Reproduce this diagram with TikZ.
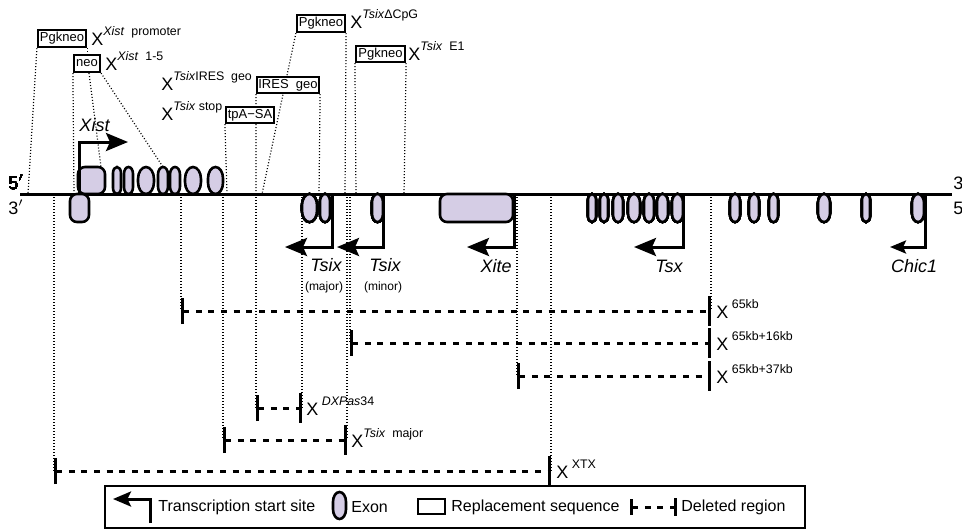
\documentclass[tikz,border=0pt]{standalone}
\usepackage{fontspec}
\setmainfont{Liberation Sans}
\usetikzlibrary{arrows.meta,backgrounds}
\definecolor{exonfill}{RGB}{213,205,229}
\newcommand{\allele}[1]{{\fontsize{9}{9}\selectfont X}\raisebox{4.6pt}{\fontsize{6.2}{7}\selectfont #1}}
% exon outline: #1,#2 left/right, #3,#4 top/bottom
\newcommand{\exonpath}[4]{%
  \pgfmathsetmacro\ry{min(0.75*(#2-#1),(#4-#3)/2)}%
  \pgfmathsetmacro\rx{(#2-#1)/2}%
  \draw[exon] (#1,#3+\ry) arc[start angle=180,end angle=360,x radius=\rx,y radius=\ry]
    -- (#2,#4-\ry) arc[start angle=0,end angle=180,x radius=\rx,y radius=\ry] -- cycle;}

\begin{document}
\begin{tikzpicture}[x=0.5pt,y=-0.5pt,
  exon/.style={draw,line width=1.3pt,fill=exonfill},
  guide/.style={line width=0.6pt,dash pattern=on 0.5pt off 1pt},
  tss/.style={line width=1.5pt,-{Stealth[length=11pt,width=9pt,inset=2pt]}},
  delreg/.style={line width=1.5pt,dash pattern=on 3pt off 3.3pt,
    {Bar[width=13pt,line width=1.5pt]}-{Bar[width=15pt,line width=1.5pt]}},
  repbox/.style={draw,fill=white,line width=1.1pt,inner sep=0pt,minimum height=8.5pt,
    font=\fontsize{6.5}{7}\selectfont},
  gene/.style={inner sep=0pt,font=\fontsize{9}{10}\selectfont\itshape},
  note/.style={inner sep=0pt,font=\fontsize{6}{7}\selectfont},
  tag/.style={inner sep=0pt,anchor=base west},
  strand/.style={inner sep=0pt,font=\fontsize{9}{10}\selectfont},
  keytext/.style={inner sep=0pt,anchor=west,font=\fontsize{8}{9}\selectfont}]
\useasboundingbox (0,0) rectangle (962,531);
%\draw[step=50,gray,very thin] (0,0) grid (962,531);
\coordinate (chr) at (0,194);
\foreach \n/\x in {pL/28,nL/74,tS/227,iL/256,cL/262,iR/319,cR/345,eL/356,eR/404}
  \coordinate (\n) at (\x,194);
\coordinate (ex1) at (101,167);
\coordinate (ex5) at (163,167);
\foreach \n/\a/\b/\y in {k65/181/711/311,k16/350/711/343,k37/517/711/376,
    dx/256/302/408,tm/223/347/440,xtx/54/551/471}{
  \coordinate (\n-a) at (\a,\y);
  \coordinate (\n-b) at (\b,\y);
}

% replacement constructs
\node[repbox,minimum width=24pt] (pgkP) at (62,38.5) {Pgkneo};
\node[repbox,minimum width=13pt] (neo) at (87,63.5) {neo};
\node[repbox,minimum width=31pt,minimum height=8pt] (ires) at (288,85) {IRES\ \ geo};
\node[repbox,minimum width=24pt,minimum height=8pt] (tpa) at (250,115) {tpA−SA};
\node[repbox,minimum width=24pt] (pgkC) at (321,23.5) {Pgkneo};
\node[repbox,minimum width=24.5pt,minimum height=8pt] (pgkE) at (380.5,54) {Pgkneo};

\node[tag] (lbP) at (91,45) {\allele{\textit{Xist}\ \ promoter}};
\node[tag] (lbN) at (105,70) {\allele{\textit{Xist}\ \ 1-5}};
\node[tag] (lbI) at (161,90) {\allele{\textit{Tsix}IRES\ \ geo}};
\node[tag] (lbS) at (161,120) {\allele{\textit{Tsix} stop}};
\node[tag] (lbC) at (350,28) {\allele{\textit{Tsix}ΔCpG}};
\node[tag] (lbE) at (408,60) {\allele{\textit{Tsix}\ \ E1}};

\begin{scope}[on background layer]
\draw[guide] (pgkP.south west) -- (pL);
\draw[guide] (pgkP.south east) -- (pgkP.south east |- neo.north);
\draw[guide] (neo.south west) -- (nL);
\draw[guide] ([xshift=1pt]neo.south) -- (ex1);
\draw[guide] (neo.south east) -- (ex5);
\draw[guide] (tpa.south west) -- (tS);
\draw[guide] (ires.south west) -- (iL);
\draw[guide] (ires.south east) -- (iR);
\draw[guide] (pgkC.south west) -- (cL);
\draw[guide] (pgkC.south east) -- (cR);
\draw[guide] (pgkE.south west) -- (eL);
\draw[guide] (pgkE.south east) -- (eR);
\foreach \p in {k65-a,k65-b,k16-a,k37-a,dx-a,dx-b,tm-a,tm-b,xtx-a,xtx-b}
  \draw[guide] (\p |- chr) -- (\p);
\end{scope}

% chromosome and exons
\draw[line width=1.5pt] (20,194) -- (952,194);
\draw[exon,rounded corners=3.5pt] (78,167) rectangle (105,194);
\draw[exon,rounded corners=3.5pt] (70,194) rectangle (89,222);
\draw[exon,rounded corners=3.5pt] (440,194) rectangle (513,222);
\foreach \a/\b in {113/121,124/133,138/154,158/168,170/180,185/201,208/223}
  \exonpath{\a}{\b}{167}{194}
\foreach \a/\b in {302/317,320/330,372/383,588/596,600/608,613/623,628/640,644/654,
    657/668,672/683,730/740,749/759,769/778,818/830,862/870,912/924}
  \exonpath{\a}{\b}{194}{222}
\node[strand] (s5l) at (16,182) {5$'$};
\node[strand] (s3l) at (16,207) {3$'$};
\node[strand,anchor=west] (s3r) at (953,182) {3$'$};
\node[strand,anchor=west] (s5r) at (953,207) {5$'$};

% transcription start sites
\draw[tss] (79,194) |- (128,142);
\draw[tss] (332,194) |- (285,247);
\draw[tss] (383,194) |- (337,247);
\draw[tss] (514,194) |- (467,247);
\draw[tss] (683,194) |- (634,247);
\draw[tss,-{Stealth[length=8pt,width=6.5pt,inset=1.5pt]}] (925,194) |- (890,247);
\node[gene] (gXist) at (94.5,125) {Xist};
\node[gene] (gTsixA) at (326,265) {Tsix};
\node[note] (gMaj) at (324,287) {(major)};
\node[gene] (gTsixB) at (385,265) {Tsix};
\node[note] (gMin) at (383,287) {(minor)};
\node[gene,anchor=east] (gXite) at (512,266) {Xite};
\node[gene] (gTsx) at (669,266) {Tsx};
\node[gene] (gChic) at (914,266) {Chic1};

% deletions
\foreach \n in {k65,k16,k37,dx,tm,xtx}
  \draw[delreg] (\n-a) -- (\n-b);
\node[tag] (lb65) at (716,318) {\allele{\ 65kb}};
\node[tag] (lb16) at (716,350) {\allele{\ 65kb+16kb}};
\node[tag] (lb37) at (716,383) {\allele{\ 65kb+37kb}};
\node[tag] (lbDX) at (306,415) {\allele{\ \textit{DXPas}34}};
\node[tag] (lbTM) at (351,447) {\allele{\textit{Tsix}\ \ major}};
\node[tag] (lbX) at (556,478) {\allele{\ XTX}};

% legend
\draw[line width=0.8pt] (105,486) rectangle (805,528);
\draw[tss,-{Stealth[length=9pt,width=7.5pt,inset=1.8pt]}] (150,523) |- (113,499);
\node[keytext] (kTss) at (158,507) {Transcription start site};
\exonpath{333}{346}{492}{519}
\node[keytext] (kExon) at (351,507) {Exon};
\draw[line width=0.8pt] (418,499) rectangle (445,514);
\node[keytext] (kRep) at (451,507) {Replacement sequence};
\coordinate (kda) at (630,507);
\coordinate (kdb) at (677,507);
\draw[delreg,{Bar[width=8pt,line width=1.5pt]}-{Bar[width=9pt,line width=1.5pt]}] (kda) -- (kdb);
\node[keytext] (kDel) at (681,507) {Deleted region};
\end{tikzpicture}
\end{document}
